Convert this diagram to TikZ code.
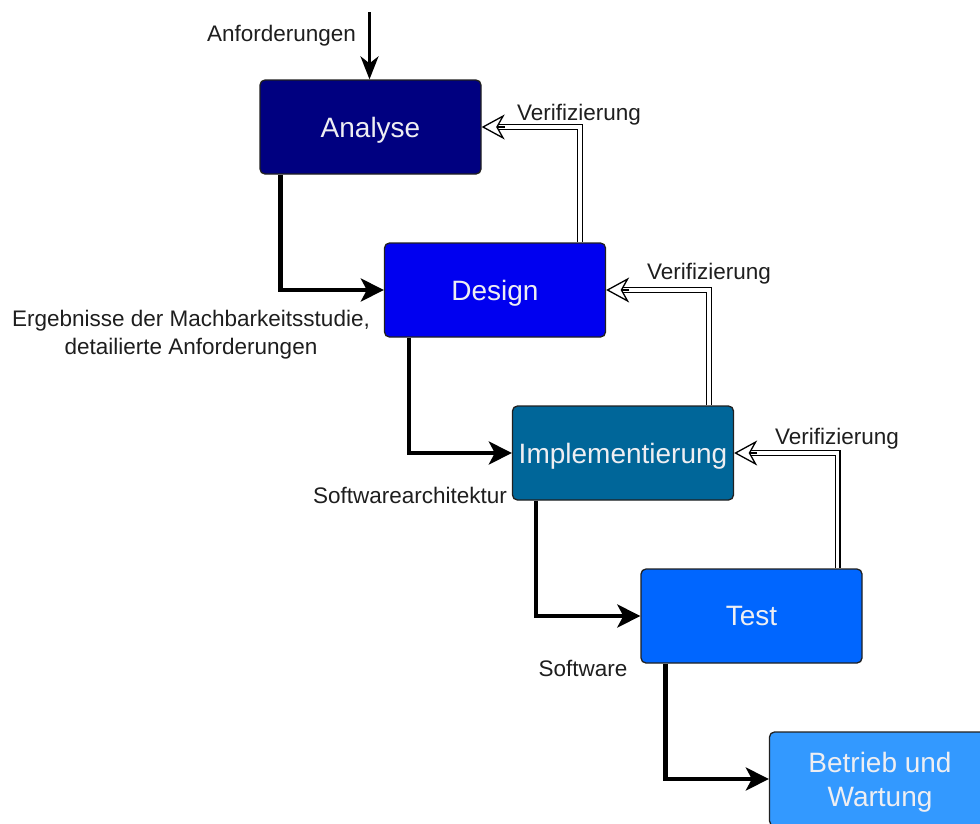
\documentclass[tikz,border=0pt]{standalone}
\usepackage{fontspec}
\setmainfont{Liberation Sans}
\usetikzlibrary{arrows.meta,calc}

\definecolor{cAnalyse}{HTML}{000080}
\definecolor{cDesign}{HTML}{0000F0}
\definecolor{cImpl}{HTML}{006699}
\definecolor{cTest}{HTML}{0066FF}
\definecolor{cBetrieb}{HTML}{3399FF}
\definecolor{boxtext}{HTML}{EEEEF2}
\definecolor{labeltext}{HTML}{1E1E1E}
\definecolor{boxborder}{HTML}{202020}

\tikzset{
  phase/.style={draw=boxborder, line width=1.3pt, rounded corners=5pt,
    minimum width=221pt, minimum height=94pt, inner sep=0pt,
    text=boxtext, align=center, text depth=0pt,
    font=\fontsize{28}{34}\selectfont},
  lbl/.style={text=labeltext, inner sep=0pt, align=center, text depth=0pt,
    font=\fontsize{22.5}{28}\selectfont},
  flow/.style={line width=4.7pt, -{Stealth[length=23pt, width=23pt, inset=6pt]}},
  inflow/.style={line width=3pt, -{Stealth[length=23pt, width=18pt, inset=7pt]}},
  verline/.style={draw=black, line width=1.2pt, double=white, double distance=3.4pt,
    shorten >=14pt},
  vertip/.style={line width=1.3pt,
    -{Stealth[length=23pt, width=25pt, inset=7pt, fill=white]}},
}

\begin{document}
\begin{tikzpicture}[x=1pt, y=-1pt]
  \useasboundingbox (0,0) rectangle (980,823);

  % phase boxes of the waterfall
  \node[phase, fill=cAnalyse] (analyse) at (370.5,127) {Analyse};
  \node[phase, fill=cDesign]  (design)  at (495,290)   {Design};
  \node[phase, fill=cImpl]    (impl)    at (623,453)   {Implementierung};
  \node[phase, fill=cTest]    (test)    at (751.5,616) {Test};
  \node[phase, fill=cBetrieb] (betrieb) at (880,779)   {Betrieb und\\Wartung};

  % input from above
  \coordinate (start) at (369.5,12);
  \draw[inflow] (start) -- (start |- analyse.north);
  \node[lbl] (lanf) at (281.5,33) {Anforderungen};

  % forward flow between phases
  \draw[flow] ($(analyse.south west)+(21,0)$) |- (design.west);
  \draw[flow] ($(design.south west)+(25,0)$)  |- (impl.west);
  \draw[flow] ($(impl.south west)+(24,0)$)    |- (test.west);
  \draw[flow] ($(test.south west)+(25,0)$)    |- (betrieb.west);

  % flow labels
  \node[lbl] (lerg) at (191,332) {Ergebnisse der Machbarkeitsstudie,\\detailierte Anforderungen};
  \node[lbl] (lsa)  at (410,495) {Softwarearchitektur};
  \node[lbl] (lsw)  at (583,668) {Software};

  % verification feedback (double lines with open heads)
  \coordinate (v1) at ($(design.north east)+(-26,0)$);
  \coordinate (v2) at ($(impl.north east)+(-25,0)$);
  \coordinate (v3) at ($(test.north east)+(-25,0)$);
  \draw[verline] (v1) |- (analyse.east);
  \draw[verline] (v2) |- (design.east);
  \draw[verline] (v3) |- (impl.east);
  \draw[vertip] ($(analyse.east)+(23,0)$) -- (analyse.east);
  \draw[vertip] ($(design.east)+(23,0)$)  -- (design.east);
  \draw[vertip] ($(impl.east)+(23,0)$)    -- (impl.east);

  \node[lbl] (lv1) at (579,112) {Verifizierung};
  \node[lbl] (lv2) at (709,271) {Verifizierung};
  \node[lbl] (lv3) at (837,436) {Verifizierung};
\end{tikzpicture}
\end{document}
